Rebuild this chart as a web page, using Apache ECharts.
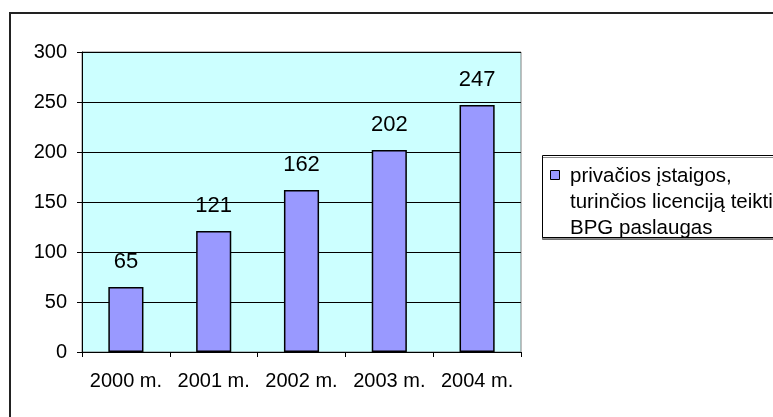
<!DOCTYPE html>
<html>
<head>
<meta charset="utf-8">
<script src="https://cdn.jsdelivr.net/npm/echarts@6/dist/echarts.min.js"></script>
<style>
  html, body { margin: 0; padding: 0; background: #fff; }
  #chart { width: 773px; height: 417px; }
</style>
</head>
<body>
<div id="chart"></div>
<script>
// Licensed private institutions by year
const categories = ['2000 m.', '2001 m.', '2002 m.', '2003 m.', '2004 m.'];
const values = [65, 121, 162, 202, 247];
const seriesName = 'privačios įstaigos,\nturinčios licenciją teikti\nBPG paslaugas';
const yTicks = [0, 50, 100, 150, 200, 250, 300];

const FONT = 'Liberation Sans, Arial, sans-serif';
const chart = echarts.init(document.getElementById('chart'), null, { renderer: 'canvas' });

const gridLeft = 82, gridTop = 52, gridRight = 252, gridBottom = 65;

chart.setOption({
  animation: false,
  backgroundColor: '#fff',
  grid: {
    left: gridLeft, top: gridTop, right: gridRight, bottom: gridBottom,
    show: true, backgroundColor: '#CCFFFF', borderColor: '#808080', borderWidth: 1
  },
  xAxis: {
    type: 'category',
    data: categories,
    boundaryGap: true,
    axisLine: { lineStyle: { color: '#000', width: 1 } },
    axisTick: { show: true, length: 5, interval: 0, lineStyle: { color: '#000' } },
    axisLabel: { color: '#000', fontFamily: FONT, fontSize: 20, margin: 19, interval: 0 }
  },
  yAxis: {
    type: 'value',
    min: yTicks[0],
    max: yTicks[yTicks.length - 1],
    interval: yTicks[1] - yTicks[0],
    axisLine: { show: true, lineStyle: { color: '#000', width: 1 } },
    axisTick: { show: true, length: 5, lineStyle: { color: '#000' } },
    axisLabel: { color: '#000', fontFamily: FONT, fontSize: 20, margin: 15 },
    splitLine: { show: true, lineStyle: { color: '#000', width: 1 } }
  },
  series: [{
    name: seriesName,
    type: 'bar',
    data: values,
    barWidth: '40%',
    itemStyle: { color: '#9999FF', borderColor: '#000', borderWidth: 1.5 },
    label: {
      show: true, position: 'top', distance: 14,
      color: '#000', fontFamily: FONT, fontSize: 22
    }
  }],
  graphic: [
    // outer chart frame
    { type: 'rect', shape: { x: 10, y: 13, width: 900, height: 600 },
      style: { fill: null, stroke: '#222', lineWidth: 2 }, silent: true },
    // legend box
    { type: 'rect', shape: { x: 542.5, y: 155.5, width: 300, height: 82 },
      style: { fill: '#fff', stroke: '#000', lineWidth: 1,
               shadowColor: 'rgba(0,0,0,0.45)', shadowOffsetY: 2, shadowOffsetX: 0, shadowBlur: 0 },
      silent: true },
    { type: 'rect', shape: { x: 550.5, y: 170.5, width: 9, height: 9 },
      style: { fill: '#9999FF', stroke: '#000', lineWidth: 1 }, silent: true },
    { type: 'text', left: 570, top: 163,
      style: { text: seriesName, fill: '#000', font: '20.5px ' + FONT, lineHeight: 26 },
      silent: true }
  ]
});
</script>
</body>
</html>
